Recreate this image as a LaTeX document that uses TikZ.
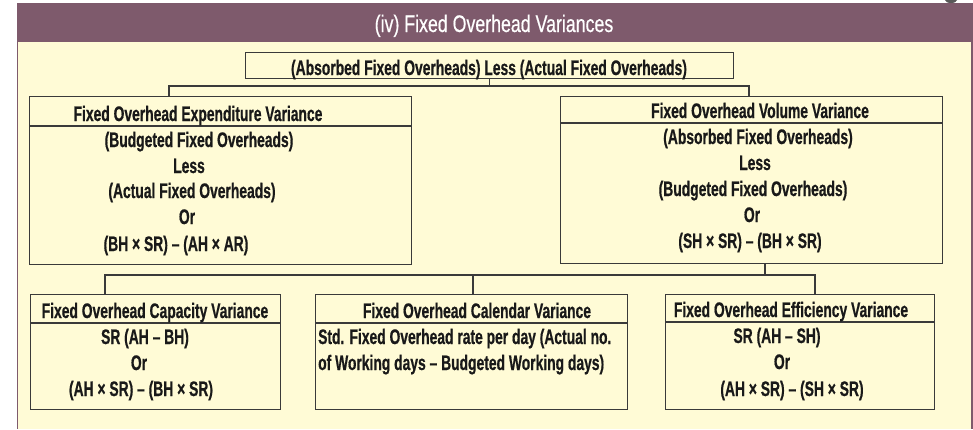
\documentclass[tikz,border=0pt]{standalone}
\usepackage{fontspec}
\setmainfont{Liberation Sans}[FakeStretch=0.66, BoldFeatures={FakeBold=0.6}]
\newfontfamily\titlefont{Liberation Sans}[FakeStretch=0.74, FakeBold=0.5]
\definecolor{banner}{RGB}{126,90,108}
\definecolor{cream}{RGB}{255,251,214}
\definecolor{linec}{RGB}{58,58,58}
\definecolor{txtc}{RGB}{25,25,25}
\tikzset{
  box/.style={draw=linec, line width=1.3pt, rectangle, inner sep=0pt, anchor=north west},
  conn/.style={draw=linec, line width=1.2pt},
  sep/.style={draw=linec, line width=1.1pt},
  txt/.style={font=\fontsize{21}{25}\selectfont\bfseries, text=txtc, inner sep=0pt, anchor=base},
  ltxt/.style={txt, anchor=base west},
  ttl/.style={font=\titlefont\fontsize{24}{28}\selectfont, text=white, inner sep=0pt, anchor=base}
}
\begin{document}
\begin{tikzpicture}[x=1pt,y=-1pt]
\useasboundingbox (0,0) rectangle (973,429);
\fill[white] (0,0) rectangle (973,429);
% panel
\fill[cream] (17,42) rectangle (972,429);
\draw[banner, line width=1.5pt] (17.5,42) -- (17.5,429);
\draw[banner, line width=1.5pt] (972,42) -- (972,429);
\fill[banner] (17,3) rectangle (973,42);
\fill[gray!70!black] (951,0) ellipse (6 and 3);
\node[ttl] (title) at (494,32) {(iv) Fixed Overhead Variances};

% top box
\node[box, minimum width=488pt, minimum height=26pt] (top) at (245,52) {};
\node[txt] (toptxt) at (489,75) {(Absorbed Fixed Overheads) Less (Actual Fixed Overheads)};

% expenditure box
\node[box, minimum width=382pt, minimum height=168pt] (exp) at (29,96) {};
\draw[sep] ([yshift=-30pt]exp.north west) -- ([yshift=-30pt]exp.north east);
\node[txt] (exph) at (198,121) {Fixed Overhead Expenditure Variance};
\node[txt] (exp1) at (199,147) {(Budgeted Fixed Overheads)};
\node[txt] (exp2) at (189,173) {Less};
\node[txt] (exp3) at (192,198) {(Actual Fixed Overheads)};
\node[txt] (exp4) at (187,224) {Or};
\node[txt] (exp5) at (176,251) {(BH × SR) – (AH × AR)};

% volume box
\node[box, minimum width=382pt, minimum height=167pt] (vol) at (560,96) {};
\draw[sep] ([yshift=-27pt]vol.north west) -- ([yshift=-27pt]vol.north east);
\node[txt] (volh) at (760,118) {Fixed Overhead Volume Variance};
\node[txt] (vol1) at (758,144) {(Absorbed Fixed Overheads)};
\node[txt] (vol2) at (755,170) {Less};
\node[txt] (vol3) at (753,196) {(Budgeted Fixed Overheads)};
\node[txt] (vol4) at (752,222) {Or};
\node[txt] (vol5) at (750,248) {(SH × SR) – (BH × SR)};

% capacity box
\node[box, minimum width=250pt, minimum height=115pt] (cap) at (30,294) {};
\draw[sep] ([yshift=-29pt]cap.north west) -- ([yshift=-29pt]cap.north east);
\node[txt] (caph) at (155,318) {Fixed Overhead Capacity Variance};
\node[txt] (cap1) at (145,344) {SR (AH – BH)};
\node[txt] (cap2) at (139,370) {Or};
\node[txt] (cap3) at (141,396) {(AH × SR) – (BH × SR)};

% calendar box
\node[box, minimum width=312pt, minimum height=115pt] (cal) at (315,294) {};
\draw[sep] ([yshift=-29pt]cal.north west) -- ([yshift=-29pt]cal.north east);
\node[txt] (calh) at (477,318) {Fixed Overhead Calendar Variance};
\node[ltxt] (cal1) at (318,344) {Std. Fixed Overhead rate per day (Actual no.};
\node[ltxt] (cal2) at (318,370) {of Working days – Budgeted Working days)};

% efficiency box
\node[box, minimum width=269pt, minimum height=115pt] (eff) at (665,294) {};
\draw[sep] ([yshift=-28pt]eff.north west) -- ([yshift=-28pt]eff.north east);
\node[txt] (effh) at (791,317) {Fixed Overhead Efficiency Variance};
\node[txt] (eff1) at (777,343) {SR (AH – SH)};
\node[txt] (eff2) at (782,369) {Or};
\node[txt] (eff3) at (792,396) {(AH × SR) – (SH × SR)};

% connectors
\draw[conn] (top.south) -- (top.south |- 0,86);
\draw[conn] ([xshift=140pt]exp.north west) -- ++(0,-10) -| ([xshift=189pt]vol.north west);
\draw[conn] ([xshift=205pt]vol.south west) -- ++(0,12);
\draw[conn] ([xshift=75pt]cap.north west) -- ++(0,-19) -| ([xshift=150pt]eff.north west);
\draw[conn] ([xshift=158pt]cal.north west) -- ++(0,-19);
\end{tikzpicture}
\end{document}
